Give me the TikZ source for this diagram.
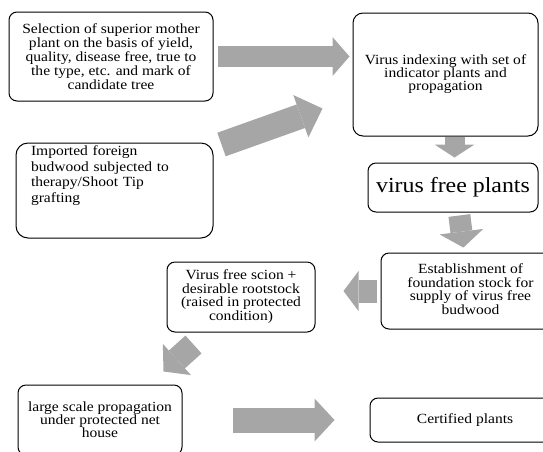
\documentclass[tikz,border=0pt]{standalone}
\usepackage{fontspec}
\setmainfont{Liberation Serif}[FakeStretch=1.11]
\usetikzlibrary{arrows.meta}
\definecolor{arrowgray}{RGB}{166,166,166}

\begin{document}
\begin{tikzpicture}[x=1pt, y=-1pt,
stage/.style={draw, line width=1pt, rounded corners=8pt, inner sep=0pt,
  font=\fontsize{14}{13}\selectfont},
blockarrow/.style n args={3}{draw=arrowgray, line width=#1,
  -{Triangle[length=#2, width=#3, line width=0pt]}}]

\useasboundingbox (0,0) rectangle (543,451);
\clip (0,0) rectangle (543,451);

% Top Row
\node[
stage,
align=center,
font=\fontsize{14}{12.3}\selectfont,
minimum width=204pt,
minimum height=89pt
] (sel) at (111,56.5)
{Selection of superior mother\\plant on the basis of yield,\\quality, disease free, true to\\the type, etc. and mark of\\candidate tree};

\node[
stage,
align=center,
rounded corners=10pt,
minimum width=185pt,
minimum height=123pt
] (index) at (445.5,74.5)
{Virus indexing with set of\\indicator plants and\\propagation};

% Second Row
\node[
stage,
rounded corners=12pt,
font=\fontsize{14}{15.7}\selectfont,
text width=167pt,
align=left,
inner xsep=15pt,
minimum height=95pt
] (imp) at (114.5,190.5)
{\begin{tabular}{@{}l@{}}Imported foreign\\budwood subjected to\\therapy/Shoot Tip\\grafting\\[29pt]\end{tabular}};

\node[
stage,
font=\fontsize{21.5}{24}\selectfont,
minimum width=170pt,
minimum height=49pt
] (vfree) at (453,187.5)
{virus free plants\hspace{10pt}};

% Third Row
\node[
stage,
minimum width=179pt,
minimum height=76pt
] (est) at (470.5,291)
{\begin{tabular}{@{}c@{}}Establishment of\\foundation stock for\\supply of virus free\\budwood\end{tabular}\hspace{34pt}};

\node[
stage,
minimum width=148pt,
minimum height=70pt
] (scion) at (241,297)
{\begin{tabular}{@{}c@{}}Virus free scion +\\desirable rootstock\\(raised in protected\\condition)\end{tabular}\hspace{24pt}};

% Bottom Row
\node[
stage,
align=center,
minimum width=164pt,
minimum height=70pt
] (large) at (100,420)
{large scale propagation\\under protected net\\house};

\node[
stage,
minimum width=190pt,
minimum height=44pt
] (cert) at (465,420)
{Certified plants\hspace{26pt}};

% Arrows
\draw[blockarrow={21pt}{17pt}{39pt}, shorten <=4pt, shorten >=3pt]
(sel) -- (sel -| index.west);

\draw[blockarrow={25pt}{23pt}{45pt}]
([shift={(8,2)}]imp.north east) -- ([shift={(-30,-28)}]index.south west);

\draw[blockarrow={20pt}{13pt}{40pt}, shorten >=5pt]
([xshift=9pt]index.south) -- ([xshift=1.5pt]vfree.north);

\draw[blockarrow={22pt}{16pt}{44pt}, shorten <=3pt, shorten >=5pt]
([xshift=6pt]vfree.south) -- ([xshift=-6.5pt]est.north);

\draw[blockarrow={23pt}{15pt}{40pt}, shorten <=4pt, shorten >=28pt]
(est.west) -- (est.west -| scion.east);

\draw[blockarrow={24pt}{18pt}{42pt}]
([shift={(27,12)}]scion.south west) -- ([shift={(-19,-13)}]large.north east);

\draw[blockarrow={25pt}{20pt}{43pt}, shorten <=50pt, shorten >=35pt]
(large) -- (cert);

\end{tikzpicture}
\end{document}
